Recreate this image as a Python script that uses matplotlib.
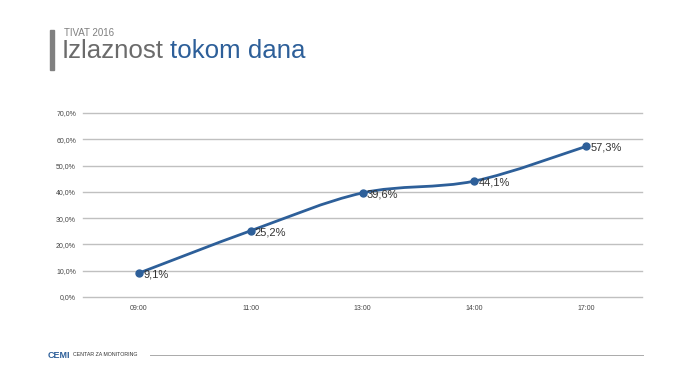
import matplotlib
matplotlib.use("Agg")
import matplotlib.pyplot as plt
import numpy as np
from matplotlib.path import Path
from matplotlib.patches import PathPatch

categories = ["09:00", "11:00", "13:00", "14:00", "17:00"]
values = [9.1, 25.2, 39.6, 44.1, 57.3]
labels = ["9,1%", "25,2%", "39,6%", "44,1%", "57,3%"]
yticks = [0, 10, 20, 30, 40, 50, 60, 70]
ytick_labels = ["0,0%", "10,0%", "20,0%", "30,0%", "40,0%", "50,0%", "60,0%", "70,0%"]

plt.rcParams['font.family'] = ['Liberation Sans', 'DejaVu Sans']

W, H = 690, 386
fig = plt.figure(figsize=(W/100, H/100), dpi=100)
fig.patch.set_facecolor("white")

ax = fig.add_axes([83/W, 1-297/H, (642-83)/W, (297-113)/H])
x = np.arange(len(categories))
ax.set_xlim(-0.5, len(categories)-0.5)
ax.set_ylim(0, 70)

blue = "#2d5f99"
verts = [(x[0], values[0])]
codes = [Path.MOVETO]
pts = list(zip(x, values))
n = len(pts)
for i in range(n-1):
    p0 = pts[i-1] if i > 0 else pts[i]
    p1 = pts[i]
    p2 = pts[i+1]
    p3 = pts[i+2] if i+2 < n else pts[i+1]
    t = 1/6
    c1 = (p1[0] + (p2[0]-p0[0])*t, p1[1] + (p2[1]-p0[1])*t)
    c2 = (p2[0] - (p3[0]-p1[0])*t, p2[1] - (p3[1]-p1[1])*t)
    verts += [c1, c2, p2]
    codes += [Path.CURVE4]*3
ax.add_patch(PathPatch(Path(verts, codes), facecolor="none", edgecolor=blue, lw=2.0, zorder=3))
ax.plot(x, values, "o", color=blue, ms=5, zorder=4)

for xi, v, lab in zip(x, values, labels):
    ax.annotate(lab, (xi, v), xytext=(3, -1), textcoords="offset points",
                ha="left", va="center", fontsize=8, color="#333333", zorder=5)

ax.set_yticks(yticks)
ax.set_yticklabels(ytick_labels)
ax.set_xticks(x)
ax.set_xticklabels(categories)
ax.tick_params(axis="both", length=0, labelsize=5, colors="#444444")
ax.tick_params(axis="y", pad=5)
ax.tick_params(axis="x", pad=6)
ax.grid(axis="y", color="#c0c0c0", lw=1)
for gl in ax.get_ygridlines():
    gl.set_clip_on(False)
ax.set_axisbelow(True)
for s in ax.spines.values():
    s.set_visible(False)

# header
fig.patches.append(plt.Rectangle((50/W, 1-70/H), 4/W, 40/H, transform=fig.transFigure,
                                 color="#808080", zorder=1))
fig.text(64/W, 1-33/H, "TIVAT 2016", fontsize=7, color="#7f7f7f", va="center", ha="left")
t1 = fig.text(62/W, 1-51/H, "Izlaznost", fontsize=18.6, color="#6b6b6b", va="center", ha="left")
fig.canvas.draw()
bb = t1.get_window_extent()
fig.text((bb.x1 + 6)/W, 1-51/H, "tokom dana", fontsize=18.6, color=blue, va="center", ha="left")

# footer
fig.text(48/W, 1-355/H, "CEMI", fontsize=6.5, color="#2d5f99", va="center", ha="left", fontweight="bold")
fig.text(73/W, 1-355/H, "CENTAR ZA MONITORING", fontsize=3.8, color="#333333", va="center", ha="left")
fig.add_artist(plt.Line2D([150/W, 643/W], [1-355/H, 1-355/H], color="#aaaaaa", lw=0.7))

fig.savefig("out.png", dpi=100)
